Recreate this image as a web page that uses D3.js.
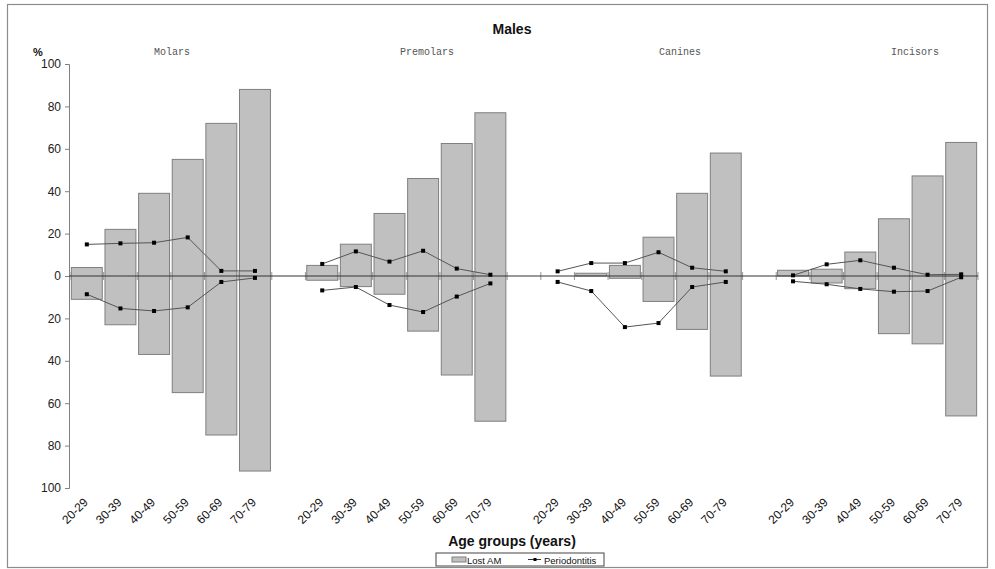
<!DOCTYPE html>
<html>
<head>
<meta charset="utf-8">
<script src="https://cdn.jsdelivr.net/npm/d3@7"></script>
<style>
  body { margin: 0; background: #fff; }
  svg { display: block; }
</style>
</head>
<body>
<script>
// Data
//= ================================
let groups = ['Molars', 'Premolars', 'Canines', 'Incisors'];
let ageGroups = ['20-29', '30-39', '40-49', '50-59', '60-69', '70-79'];
let yTicks = [-100, -80, -60, -40, -20, 0, 20, 40, 60, 80, 100];

// Lost AM bars: upper (maxillary) and lower (mandibular) %
let lostUpper = [
  [4, 22, 39, 55, 72, 88],
  [5, 15, 29.5, 46, 62.5, 77],
  [0, 1.3, 5, 18.3, 39, 58],
  [2.7, 3.2, 11.3, 27, 47.2, 63]
];
let lostLower = [
  [11, 23, 37, 55, 75, 92],
  [2, 5, 8.6, 26, 46.7, 68.5],
  [0, 0, 1.1, 12, 25.2, 47.2],
  [0, 3.3, 6, 27.2, 32, 66]
];
// Periodontitis lines
let perioUpper = [
  [14.9, 15.4, 15.7, 18.2, 2.4, 2.4],
  [5.7, 11.6, 6.8, 11.9, 3.5, 0.6],
  [2.2, 6.1, 6.1, 11.2, 3.9, 2.2],
  [0.3, 5.5, 7.4, 3.9, 0.6, 0.8]
];
let perioLower = [
  [8.6, 15.3, 16.5, 14.8, 2.8, 0.9],
  [6.8, 5.2, 13.7, 17.0, 9.7, 3.5],
  [2.8, 7.1, 24.1, 22.2, 5.2, 2.8],
  [2.5, 3.9, 6.1, 7.4, 7.1, 0.6]
];

// Set up our chart
//= ================================
let svgWidth = 995;
let svgHeight = 569;
let margin = { top: 64, left: 70, right: 17, bottom: 81 };
let plotBottom = svgHeight - margin.bottom;
let plotRight = svgWidth - margin.right;

let svg = d3.select('body')
  .append('svg')
  .attr('width', svgWidth)
  .attr('height', svgHeight);

// outer frame
svg.append('rect')
  .attr('x', 7.5).attr('y', 4.5)
  .attr('width', 980).attr('height', 563)
  .attr('fill', 'none')
  .attr('stroke', '#8c8c8c')
  .attr('stroke-width', 1.2);

// slots: 6 ages per group plus one empty slot between groups
let slots = [];
groups.forEach((g, gi) => {
  if (gi > 0) slots.push('gap' + gi);
  ageGroups.forEach(a => slots.push(g + '|' + a));
});

let x = d3.scaleBand()
  .domain(slots)
  .range([margin.left, plotRight])
  .paddingInner(0.08)
  .paddingOuter(0.04);

let y = d3.scaleLinear()
  .domain([-100, 100])
  .range([plotBottom, margin.top]);

// flatten rows
let rows = [];
groups.forEach((g, gi) => {
  ageGroups.forEach((a, ai) => {
    rows.push({
      group: g, age: a, key: g + '|' + a,
      up: lostUpper[gi][ai], down: lostLower[gi][ai],
      pUp: perioUpper[gi][ai], pDown: perioLower[gi][ai]
    });
  });
});

// Title and labels
svg.append('text')
  .attr('x', 512).attr('y', 34)
  .attr('text-anchor', 'middle')
  .attr('font-family', 'Liberation Sans, Arial, sans-serif')
  .attr('font-weight', 'bold')
  .attr('font-size', '14px')
  .attr('fill', '#111')
  .text('Males');

svg.append('text')
  .attr('x', 33).attr('y', 56)
  .attr('font-family', 'Liberation Sans, Arial, sans-serif')
  .attr('font-weight', 'bold')
  .attr('font-size', '11px')
  .attr('fill', '#111')
  .text('%');

let groupLabelX = [172, 427, 680, 915];
svg.selectAll('.glabel')
  .data(groups)
  .enter()
  .append('text')
  .attr('class', 'glabel')
  .attr('x', (d, i) => groupLabelX[i])
  .attr('y', 55)
  .attr('text-anchor', 'middle')
  .attr('font-family', 'Liberation Mono, Courier New, monospace')
  .attr('font-size', '10px')
  .attr('fill', '#555')
  .text(d => d);

// Y axis
let leftAxis = d3.axisLeft(y)
  .tickValues(yTicks)
  .tickSize(4)
  .tickPadding(4)
  .tickFormat(d => Math.abs(d));

let yAxisG = svg.append('g')
  .attr('transform', `translate(${margin.left - 1}, 0)`)
  .call(leftAxis);
yAxisG.select('.domain').attr('stroke', '#808080');
yAxisG.selectAll('.tick line').attr('stroke', '#808080');
yAxisG.selectAll('.tick text')
  .attr('font-family', 'Liberation Sans, Arial, sans-serif')
  .attr('font-size', '12px')
  .attr('fill', '#222');

// small category ticks on zero line
let bounds = slots.map(s => x(s) - x.step() * x.paddingInner() / 2);
bounds.push(plotRight);
svg.append('g')
  .selectAll('line')
  .data(bounds)
  .enter()
  .append('line')
  .attr('x1', d => d).attr('x2', d => d)
  .attr('y1', y(0) - 4).attr('y2', y(0) + 4)
  .attr('stroke', '#999')
  .attr('stroke-width', 1);

// Bars
svg.append('g')
  .selectAll('rect')
  .data(rows.filter(d => d.up + d.down > 0))
  .enter()
  .append('rect')
  .attr('x', d => x(d.key))
  .attr('y', d => y(d.up))
  .attr('width', x.bandwidth())
  .attr('height', d => y(-d.down) - y(d.up))
  .attr('fill', '#c0c0c0')
  .attr('stroke', '#7f7f7f')
  .attr('stroke-width', 1);

// zero line
svg.append('line')
  .attr('x1', margin.left - 1).attr('x2', plotRight)
  .attr('y1', y(0)).attr('y2', y(0))
  .attr('stroke', '#333')
  .attr('stroke-width', 1);

// Periodontitis lines
let cx = d => x(d.key) + x.bandwidth() / 2;
let lineUp = d3.line().x(cx).y(d => y(d.pUp));
let lineDown = d3.line().x(cx).y(d => y(-d.pDown));

groups.forEach(g => {
  let gr = rows.filter(d => d.group === g);
  svg.append('path').datum(gr)
    .attr('d', lineUp)
    .attr('fill', 'none').attr('stroke', '#555').attr('stroke-width', 1);
  svg.append('path').datum(gr)
    .attr('d', lineDown)
    .attr('fill', 'none').attr('stroke', '#555').attr('stroke-width', 1);
});

let markers = [];
rows.forEach(d => {
  markers.push({ key: d.key, v: d.pUp });
  markers.push({ key: d.key, v: -d.pDown });
});
svg.append('g')
  .selectAll('rect')
  .data(markers)
  .enter()
  .append('rect')
  .attr('x', d => x(d.key) + x.bandwidth() / 2 - 2)
  .attr('y', d => y(d.v) - 2)
  .attr('width', 4).attr('height', 4)
  .attr('fill', '#000');

// X labels
svg.append('g')
  .selectAll('text')
  .data(rows)
  .enter()
  .append('text')
  .attr('transform', d => `translate(${cx(d) + 2}, ${plotBottom + 15}) rotate(-45)`)
  .attr('text-anchor', 'end')
  .attr('font-family', 'Liberation Sans, Arial, sans-serif')
  .attr('font-size', '12px')
  .attr('fill', '#111')
  .text(d => d.age);

svg.append('text')
  .attr('x', 512).attr('y', 546)
  .attr('text-anchor', 'middle')
  .attr('font-family', 'Liberation Sans, Arial, sans-serif')
  .attr('font-weight', 'bold')
  .attr('font-size', '14px')
  .attr('fill', '#111')
  .text('Age groups (years)');

// Legend
let legend = svg.append('g').attr('transform', 'translate(436, 553)');
legend.append('rect')
  .attr('x', 0).attr('y', 0).attr('width', 168).attr('height', 13)
  .attr('fill', '#fff').attr('stroke', '#444').attr('stroke-width', 1);
legend.append('rect')
  .attr('x', 16).attr('y', 4).attr('width', 14).attr('height', 5)
  .attr('fill', '#c0c0c0').attr('stroke', '#7f7f7f');
legend.append('text')
  .attr('x', 31).attr('y', 10.5)
  .attr('font-family', 'Liberation Sans, Arial, sans-serif')
  .attr('font-size', '9.5px').attr('fill', '#111')
  .text('Lost AM');
legend.append('line')
  .attr('x1', 92).attr('x2', 105).attr('y1', 6.5).attr('y2', 6.5)
  .attr('stroke', '#333');
legend.append('rect')
  .attr('x', 97.5).attr('y', 5).attr('width', 3).attr('height', 3)
  .attr('fill', '#000');
legend.append('text')
  .attr('x', 108).attr('y', 10.5)
  .attr('font-family', 'Liberation Sans, Arial, sans-serif')
  .attr('font-size', '9.5px').attr('fill', '#111')
  .text('Periodontitis');
</script>
</body>
</html>
